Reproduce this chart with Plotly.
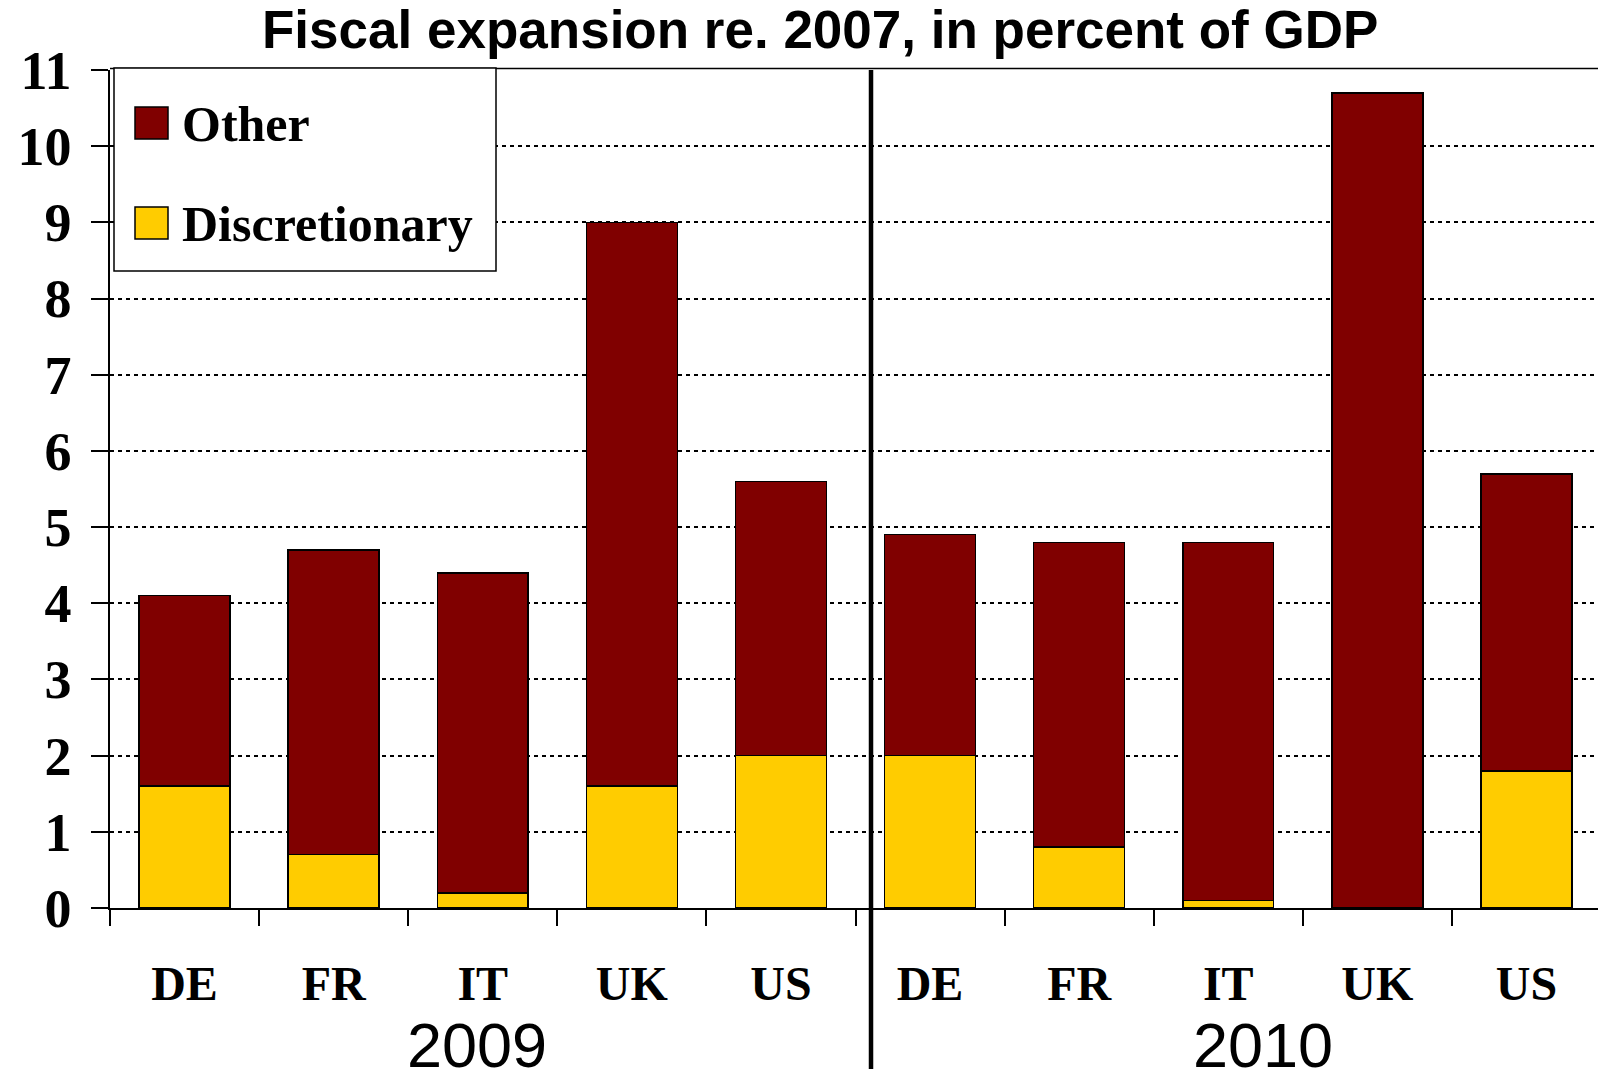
import plotly.graph_objects as go

# Data: fiscal expansion relative to 2007, percent of GDP
countries = ["DE", "FR", "IT", "UK", "US", "DE", "FR", "IT", "UK", "US"]
years = ["2009", "2010"]
discretionary = [1.6, 0.7, 0.2, 1.6, 2.0, 2.0, 0.8, 0.1, 0.0, 1.8]
other = [2.5, 4.0, 4.2, 7.4, 3.6, 2.9, 4.0, 4.7, 10.7, 3.9]
y_ticks = list(range(0, 12))

W, H = 1598, 1069
ML, MR, MT, MB = 110, 0, 70, 161
PW, PH = W - ML - MR, H - MT - MB

MAROON = "#800000"
GOLD = "#FFCC00"
SERIF = "Liberation Serif"
SANS = "Liberation Sans"


def px_x(px):
    return (px - ML) / PW


def px_y(py):
    return (H - MB - py) / PH


xs = list(range(len(countries)))

fig = go.Figure()
fig.add_trace(go.Bar(
    x=xs, y=discretionary, name="Discretionary", width=0.61,
    marker=dict(color=GOLD, line=dict(color="black", width=1.5)),
    showlegend=False,
))
fig.add_trace(go.Bar(
    x=xs, y=other, name="Other", width=0.61,
    marker=dict(color=MAROON, line=dict(color="black", width=1.5)),
    showlegend=False,
))
# invisible trace carrying the category boundary ticks
fig.add_trace(go.Scatter(x=[-0.5], y=[0], xaxis="x2", mode="markers",
                         marker=dict(opacity=0), showlegend=False,
                         hoverinfo="skip"))

x_range = [-0.5, -0.5 + PW / 149.1]

fig.update_layout(
    width=W, height=H,
    margin=dict(l=ML, r=MR, t=MT, b=MB, pad=0),
    barmode="stack",
    bargap=0.39,
    plot_bgcolor="white",
    paper_bgcolor="white",
    xaxis=dict(
        range=x_range,
        tickmode="array", tickvals=xs, ticktext=countries,
        ticks="", showgrid=False, zeroline=False,
        showline=True, linecolor="black", linewidth=1.5,
        tickfont=dict(family=SERIF, size=48, color="black", weight="bold"),
        ticklabelstandoff=33,
    ),
    xaxis2=dict(
        overlaying="x", side="bottom", range=x_range,
        tickmode="array", tickvals=[i - 0.5 for i in range(len(countries) + 1)],
        ticks="outside", ticklen=17, tickwidth=1.5, tickcolor="black",
        showticklabels=False, showgrid=False, zeroline=False, showline=False,
    ),
    yaxis=dict(
        range=[0, 11],
        tickmode="array", tickvals=y_ticks,
        ticks="outside", ticklen=17, tickwidth=1.5, tickcolor="black",
        showline=True, linecolor="black", linewidth=1.5,
        showgrid=True, gridcolor="black", gridwidth=1.5, griddash="4px,4px",
        zeroline=False,
        tickfont=dict(family=SERIF, size=54, color="black", weight="bold"),
        ticklabelstandoff=9,
    ),
)

shapes = []
# top border of the plot area
shapes.append(dict(type="line", xref="paper", yref="paper",
                   x0=0, x1=1, y0=px_y(68.5), y1=px_y(68.5),
                   line=dict(color="black", width=1.5)))
# year divider
shapes.append(dict(type="line", xref="x", yref="paper",
                   x0=4.604, x1=4.604, y0=px_y(H + 5), y1=px_y(70),
                   line=dict(color="black", width=4.5)))
# legend frame and swatches
shapes.append(dict(type="rect", xref="paper", yref="paper",
                   x0=px_x(114), x1=px_x(496), y0=px_y(271), y1=px_y(68),
                   fillcolor="white", line=dict(color="black", width=1.5)))
shapes.append(dict(type="rect", xref="paper", yref="paper",
                   x0=px_x(135), x1=px_x(168), y0=px_y(139), y1=px_y(107),
                   fillcolor=MAROON, line=dict(color="black", width=1.5)))
shapes.append(dict(type="rect", xref="paper", yref="paper",
                   x0=px_x(135), x1=px_x(168), y0=px_y(239), y1=px_y(207),
                   fillcolor=GOLD, line=dict(color="black", width=1.5)))
fig.update_layout(shapes=shapes)

annotations = [
    dict(text="Fiscal expansion re. 2007, in percent of GDP",
         xref="paper", yref="paper", x=px_x(820), y=px_y(30),
         xanchor="center", yanchor="middle", showarrow=False,
         font=dict(family=SANS, size=53, color="black", weight="bold")),
    dict(text="Other", xref="paper", yref="paper",
         x=px_x(180), y=px_y(124), xanchor="left", yanchor="middle",
         showarrow=False,
         font=dict(family=SERIF, size=50, color="black", weight="bold")),
    dict(text="Discretionary", xref="paper", yref="paper",
         x=px_x(180), y=px_y(224), xanchor="left", yanchor="middle",
         showarrow=False,
         font=dict(family=SERIF, size=50, color="black", weight="bold")),
]
for label, xc in zip(years, [1.96, 7.23]):
    annotations.append(dict(text=label, xref="x", yref="paper",
                            x=xc, y=px_y(1045), xanchor="center",
                            yanchor="middle", showarrow=False,
                            font=dict(family=SANS, size=63, color="black")))
fig.update_layout(annotations=annotations)

fig.write_html("out.html")
